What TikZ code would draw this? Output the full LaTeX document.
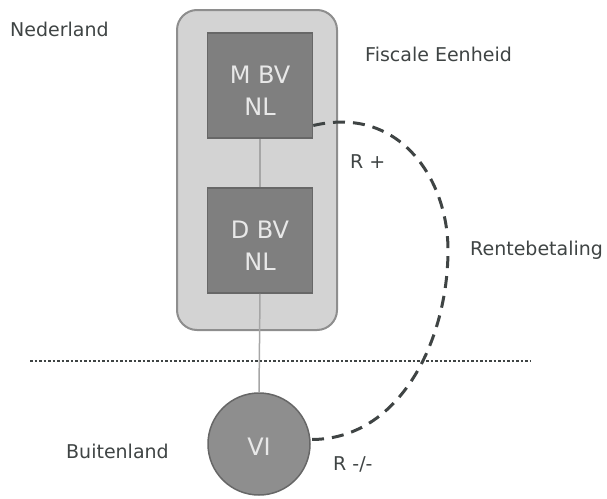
\documentclass[tikz,border=0pt]{standalone}
\usepackage{fontspec}
\setmainfont{DejaVu Sans}
\definecolor{inkgray}{HTML}{3F4444}
\definecolor{boxlight}{HTML}{D3D3D3}
\definecolor{boxedge}{HTML}{8E8E8E}
\definecolor{boxdark}{HTML}{7F7F7F}
\definecolor{boxdarkedge}{HTML}{676767}
\definecolor{boxtext}{HTML}{E8E8E8}
\definecolor{linkgray}{HTML}{A6A6A6}
\tikzset{
	entity/.style={draw=boxdarkedge,fill=boxdark,line width=1.5pt,minimum size=105pt,inner sep=0pt},
	entitytext/.style={text=boxtext,font=\fontsize{24}{32}\selectfont,align=center,inner sep=0pt},
	label/.style={text=inkgray,font=\fontsize{19}{22}\selectfont,inner sep=0pt,anchor=base west},
	link/.style={draw=linkgray,line width=1.5pt},
	rente/.style={draw=inkgray,line width=3pt,dash pattern=on 12pt off 8pt},
	border/.style={draw=inkgray,line width=2.8pt,dash pattern=on 2.5pt off 2pt}
}
\begin{document}
\begin{tikzpicture}[x=1pt,y=-1pt]
	\useasboundingbox (0,0) rectangle (607,498);
	% fiscale eenheid
	\draw [draw=boxedge,fill=boxlight,line width=2pt,rounded corners=20pt] (177,10) rectangle (337,330);
	\node [entity] (mbv) at (260,85.5) {};
	\node [entity] (dbv) at (260,240.5) {};
	\node [entitytext] (mbvtext) at ([yshift=-5pt]mbv.center) {M BV\\NL};
	\node [entitytext] (dbvtext) at ([yshift=-5pt]dbv.center) {D BV\\NL};
	% buitenlandse vennootschap
	\node [circle,draw=boxdarkedge,fill=boxedge,line width=1.5pt,minimum size=102pt,inner sep=0pt] (vi) at (259,444) {};
	\node [entitytext] (vitext) at ([yshift=-3pt]vi.center) {VI};
	\draw [link] (mbv.south) -- (dbv.north);
	\draw [link] (dbv.south) -- (vi.north);
	% landsgrens
	\coordinate (grensl) at (30,361);
	\coordinate (grensr) at (531,361);
	\draw [border] (grensl) -- (grensr);
	% rentestroom
	\coordinate (bocht) at (448,250);
	\draw [rente] ([yshift=-40pt]mbv.east) .. controls (400,105) and (448,180) .. (bocht)
		.. controls (448,340) and (400,440) .. (vi.5);
	% teksten
	\node [label] (nl) at (10,36) {Nederland};
	\node [label] (fe) at (365,61) {Fiscale Eenheid};
	\node [label] (rplus) at (350,168) {R +};
	\node [label] (rb) at (470,255) {Rentebetaling};
	\node [label] (bl) at (66,458) {Buitenland};
	\node [label] (rmin) at (333,470) {R -/-};
\end{tikzpicture}
\end{document}
